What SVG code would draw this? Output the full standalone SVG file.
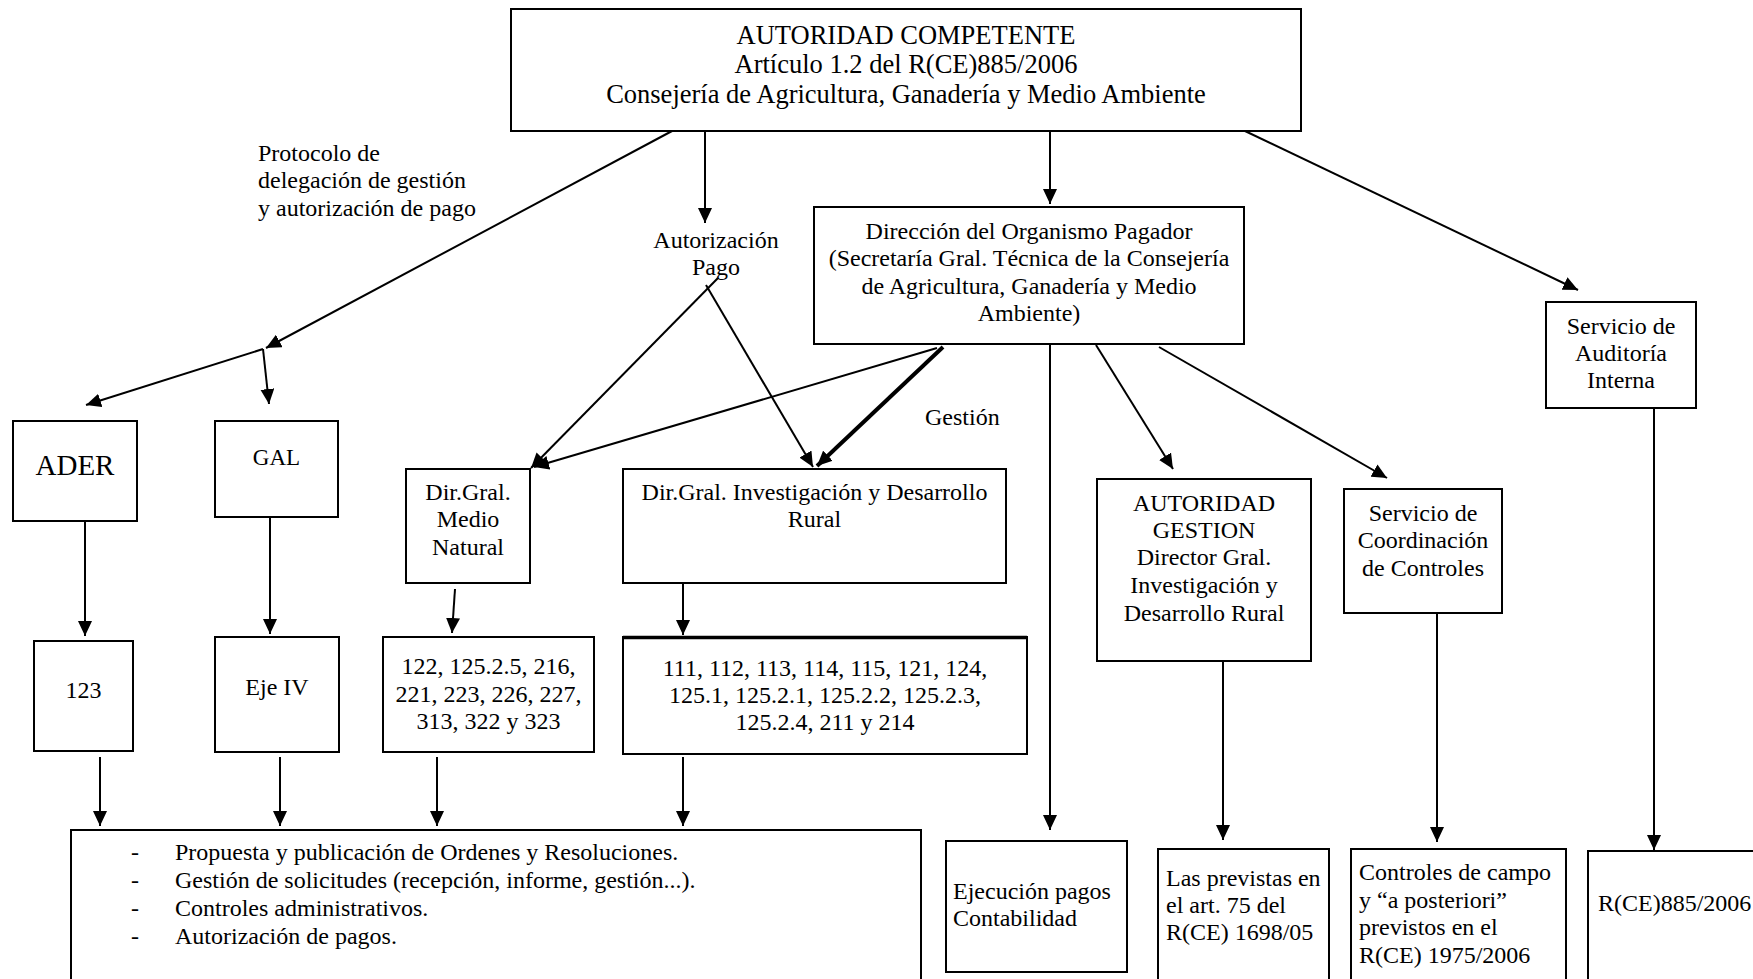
<svg xmlns="http://www.w3.org/2000/svg" width="1753" height="979" viewBox="0 0 1753 979">
<style>
  .box { fill: #ffffff; stroke: #000000; stroke-width: 2; }
  .t { font-family: "Liberation Serif", "Times New Roman", serif; font-size: 24px; fill: #000000; }
  .c { text-anchor: middle; }
  .big { font-size: 26.5px; }
  .ln { fill: none; stroke: #000000; stroke-width: 2; marker-end: url(#ah); }
  .pl { fill: none; stroke: #000000; stroke-width: 2; }
  .thick { fill: none; stroke: #000000; stroke-width: 4; marker-end: url(#ah); }
</style>
<defs>
  <marker id="ah" markerUnits="userSpaceOnUse" markerWidth="16" markerHeight="14" refX="15" refY="7" orient="auto">
    <path d="M0,0 L15,7 L0,14 z" fill="#000000"/>
  </marker>
</defs>
<rect width="1753" height="979" fill="#ffffff"/>

<g id="connectors">
  <line class="ln" x1="672" y1="131" x2="266" y2="348"/>
  <line class="ln" x1="263" y1="349" x2="86" y2="405"/>
  <line class="ln" x1="263" y1="349" x2="269" y2="404"/>
  <line class="ln" x1="705" y1="131" x2="705" y2="223"/>
  <line class="ln" x1="1050" y1="131" x2="1050" y2="204"/>
  <line class="ln" x1="1245" y1="131" x2="1578" y2="290"/>
  <line class="ln" x1="718" y1="278" x2="531" y2="468"/>
  <line class="ln" x1="706" y1="285" x2="813" y2="467"/>
  <line class="ln" x1="937" y1="348" x2="534" y2="467"/>
  <line class="thick" x1="943" y1="347" x2="817" y2="466"/>
  <line class="ln" x1="1050" y1="344" x2="1050" y2="830"/>
  <line class="ln" x1="1096" y1="345" x2="1173" y2="469"/>
  <line class="ln" x1="1159" y1="347" x2="1387" y2="478"/>
  <line class="ln" x1="1654" y1="408" x2="1654" y2="850"/>
  <line class="ln" x1="85" y1="521" x2="85" y2="636"/>
  <line class="ln" x1="270" y1="517" x2="270" y2="634"/>
  <line class="ln" x1="455" y1="589" x2="452" y2="633"/>
  <line class="ln" x1="683" y1="583" x2="683" y2="635"/>
  <line class="ln" x1="1223" y1="661" x2="1223" y2="840"/>
  <line class="ln" x1="1437" y1="613" x2="1437" y2="842"/>
  <line class="ln" x1="100" y1="757" x2="100" y2="826"/>
  <line class="ln" x1="280" y1="757" x2="280" y2="826"/>
  <line class="ln" x1="437" y1="757" x2="437" y2="826"/>
  <line class="ln" x1="683" y1="757" x2="683" y2="826"/>
</g>

<g id="labels">
  <text class="t" x="258" y="161">Protocolo de</text>
  <text class="t" x="258" y="188">delegación de gestión</text>
  <text class="t" x="258" y="216">y autorización de pago</text>
  <text class="t c" x="716" y="248">Autorización</text>
  <text class="t c" x="716" y="275">Pago</text>
  <text class="t" x="925" y="425">Gestión</text>
</g>

<g id="autoridad-competente">
  <rect class="box" x="511" y="9" width="790" height="122"/>
  <text class="t c big" x="906" y="44">AUTORIDAD COMPETENTE</text>
  <text class="t c big" x="906" y="73">Artículo 1.2 del R(CE)885/2006</text>
  <text class="t c big" x="906" y="103">Consejería de Agricultura, Ganadería y Medio Ambiente</text>
</g>

<g id="direccion-organismo">
  <rect class="box" x="814" y="207" width="430" height="137"/>
  <text class="t c" x="1029" y="239">Dirección del Organismo Pagador</text>
  <text class="t c" x="1029" y="266">(Secretaría Gral. Técnica de la Consejería</text>
  <text class="t c" x="1029" y="294">de Agricultura, Ganadería y Medio</text>
  <text class="t c" x="1029" y="321">Ambiente)</text>
</g>

<g id="auditoria">
  <rect class="box" x="1546" y="302" width="150" height="106"/>
  <text class="t c" x="1621" y="334">Servicio de</text>
  <text class="t c" x="1621" y="361">Auditoría</text>
  <text class="t c" x="1621" y="388">Interna</text>
</g>

<g id="ader">
  <rect class="box" x="13" y="421" width="124" height="100"/>
  <text class="t c" x="75" y="475" style="font-size:29px">ADER</text>
</g>

<g id="gal">
  <rect class="box" x="215" y="421" width="123" height="96"/>
  <text class="t c" x="276.5" y="465" style="font-size:23px">GAL</text>
</g>

<g id="medio-natural">
  <rect class="box" x="406" y="469" width="124" height="114"/>
  <text class="t c" x="468" y="500">Dir.Gral.</text>
  <text class="t c" x="468" y="527">Medio</text>
  <text class="t c" x="468" y="555">Natural</text>
</g>

<g id="investigacion">
  <rect class="box" x="623" y="469" width="383" height="114"/>
  <text class="t c" x="814.5" y="500">Dir.Gral. Investigación y Desarrollo</text>
  <text class="t c" x="814.5" y="527">Rural</text>
</g>

<g id="autoridad-gestion">
  <rect class="box" x="1097" y="479" width="214" height="182"/>
  <text class="t c" x="1204" y="511">AUTORIDAD</text>
  <text class="t c" x="1204" y="538">GESTION</text>
  <text class="t c" x="1204" y="565">Director Gral.</text>
  <text class="t c" x="1204" y="593">Investigación y</text>
  <text class="t c" x="1204" y="621">Desarrollo Rural</text>
</g>

<g id="coordinacion">
  <rect class="box" x="1344" y="489" width="158" height="124"/>
  <text class="t c" x="1423" y="521">Servicio de</text>
  <text class="t c" x="1423" y="548">Coordinación</text>
  <text class="t c" x="1423" y="576">de Controles</text>
</g>

<g id="m123">
  <rect class="box" x="34" y="641" width="99" height="110"/>
  <text class="t c" x="83.5" y="698">123</text>
</g>

<g id="eje4">
  <rect class="box" x="215" y="637" width="124" height="115"/>
  <text class="t c" x="277" y="695">Eje IV</text>
</g>

<g id="medidas-medio">
  <rect class="box" x="383" y="637" width="211" height="115"/>
  <text class="t c" x="488.5" y="674">122, 125.2.5, 216,</text>
  <text class="t c" x="488.5" y="702">221, 223, 226, 227,</text>
  <text class="t c" x="488.5" y="729">313, 322 y 323</text>
</g>

<g id="medidas-investigacion">
  <rect class="box" x="623" y="637" width="404" height="117"/>
  <line class="pl" x1="623" y1="637.5" x2="1027" y2="637.5" style="stroke-width:3.5"/>
  <text class="t c" x="825" y="676">111, 112, 113, 114, 115, 121, 124,</text>
  <text class="t c" x="825" y="703">125.1, 125.2.1, 125.2.2, 125.2.3,</text>
  <text class="t c" x="825" y="730">125.2.4, 211 y 214</text>
</g>

<g id="funciones">
  <rect class="box" x="71" y="830" width="850" height="170"/>
  <text class="t" x="131" y="860">-</text>
  <text class="t" x="175" y="860">Propuesta y publicación de Ordenes y Resoluciones.</text>
  <text class="t" x="131" y="888">-</text>
  <text class="t" x="175" y="888">Gestión de solicitudes (recepción, informe, gestión...).</text>
  <text class="t" x="131" y="916">-</text>
  <text class="t" x="175" y="916">Controles administrativos.</text>
  <text class="t" x="131" y="944">-</text>
  <text class="t" x="175" y="944">Autorización de pagos.</text>
</g>

<g id="ejecucion">
  <rect class="box" x="946" y="841" width="181" height="131"/>
  <text class="t" x="953" y="899">Ejecución pagos</text>
  <text class="t" x="953" y="926">Contabilidad</text>
</g>

<g id="previstas">
  <rect class="box" x="1158" y="849" width="171" height="150"/>
  <text class="t" x="1166" y="886">Las previstas en</text>
  <text class="t" x="1166" y="913">el art. 75 del</text>
  <text class="t" x="1166" y="940">R(CE) 1698/05</text>
</g>

<g id="controles">
  <rect class="box" x="1351" y="849" width="215" height="150"/>
  <text class="t" x="1359" y="880">Controles de campo</text>
  <text class="t" x="1359" y="908">y “a posteriori”</text>
  <text class="t" x="1359" y="935">previstos en el</text>
  <text class="t" x="1359" y="963">R(CE) 1975/2006</text>
</g>

<g id="reglamento">
  <rect class="box" x="1588" y="851" width="200" height="150"/>
  <text class="t" x="1598" y="911">R(CE)885/2006</text>
</g>
</svg>
